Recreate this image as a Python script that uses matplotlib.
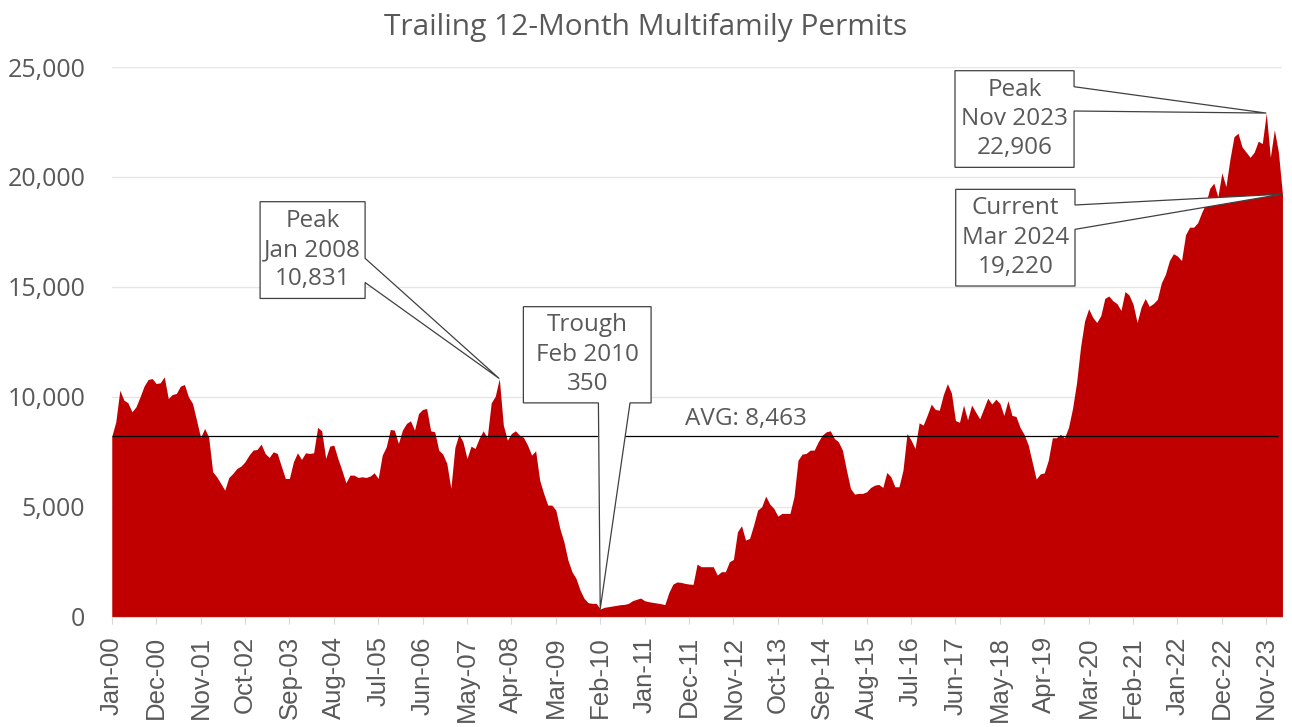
import pandas as pd
import matplotlib
matplotlib.use("Agg")
from matplotlib import pyplot as plt
from matplotlib.patches import Polygon
from matplotlib.ticker import FuncFormatter

# Monthly trailing 12-month multifamily permits, Jan 2000 - Mar 2024.
months = pd.date_range("2000-01-01", "2024-03-01", freq="MS")
permits = [
    8200, 8864, 10300, 9850, 9730, 9320, 9546, 10000, 10485, 10788,
    10833, 10606, 10637, 10909, 9924, 10106, 10152, 10485, 10561, 10000,
    9700, 8940, 8152, 8561, 8180, 6590, 6364, 6060, 5758, 6334,
    6516, 6743, 6849, 7046, 7349, 7576, 7607, 7849, 7425, 7243,
    7500, 7425, 6849, 6288, 6288, 7046, 7455, 7152, 7455, 7425,
    7455, 8607, 8455, 7198, 7758, 7804, 7198, 6667, 6091, 6440,
    6440, 6334, 6364, 6334, 6395, 6546, 6288, 7349, 7728, 8516,
    8486, 7880, 8486, 8789, 8910, 8486, 9243, 9425, 9470, 8455,
    8410, 7576, 7395, 6970, 5834, 7698, 8303, 7955, 7198, 7758,
    7652, 8107, 8455, 8152, 9728, 10030, 10831, 8713, 8031, 8334,
    8455, 8258, 8152, 7804, 7349, 7546, 6213, 5607, 5077, 5077,
    4850, 4016, 3410, 2577, 2047, 1744, 1213, 835, 638, 608,
    608, 350, 426, 456, 486, 517, 547, 562, 608, 729,
    790, 850, 729, 683, 653, 623, 593, 550, 1100, 1480,
    1580, 1562, 1516, 1486, 1471, 2395, 2274, 2274, 2274, 2274,
    1895, 2047, 2047, 2501, 2607, 3865, 4137, 3486, 3562, 4168,
    4850, 5001, 5486, 5122, 4925, 4577, 4698, 4698, 4698, 5456,
    7122, 7395, 7425, 7576, 7576, 7955, 8258, 8410, 8455, 8107,
    7955, 7576, 6667, 5834, 5577, 5607, 5607, 5683, 5880, 5985,
    6016, 5880, 6561, 6364, 5910, 5910, 6667, 8334, 8031, 7652,
    8819, 8713, 9167, 9667, 9425, 9394, 10100, 10600, 10172, 8920,
    8842, 9625, 8952, 9625, 9312, 9000, 9468, 9938, 9672, 9891,
    9703, 9155, 9828, 9155, 9108, 8608, 8295, 7825, 7043, 6260,
    6495, 6542, 7121, 8138, 8138, 8295, 8138, 8608, 9468, 10642,
    12285, 13459, 14007, 13616, 13381, 13694, 14476, 14586, 14367, 14242,
    13929, 14790, 14633, 14210, 13381, 14085, 14476, 14116, 14242, 14429,
    15181, 15572, 16198, 16511, 16401, 16198, 17372, 17716, 17716, 17919,
    18389, 18780, 19484, 19719, 19093, 20189, 19563, 20815, 21832, 21988,
    21362, 21128, 20893, 21128, 21628, 21519, 22906, 20893, 22145, 21128,
    19220,
]

# The average line sits a little below its label value in the original.
avg_label = "AVG: 8,463"
avg_level = 8200

# Callouts: (month index, text lines)
callouts = [
    (96, ["Peak", "Jan 2008", "10,831"]),
    (121, ["Trough", "Feb 2010", "350"]),
    (286, ["Peak", "Nov 2023", "22,906"]),
    (290, ["Current", "Mar 2024", "19,220"]),
]

tick_step = 11
y_max = 25000
fill_color = "#C00000"
text_color = "#595959"
font = ["Open Sans", "DejaVu Sans"]

x = list(range(len(permits)))

fig = plt.figure(figsize=(12.92, 7.27), dpi=100)
ax = fig.add_axes([0.0865, 0.1517, 0.9061, 0.7561])

ax.fill_between(x, permits, 0, color=fill_color, lw=0, zorder=2)
ax.set_xlim(0, len(permits) - 1)
ax.set_ylim(0, y_max)

# Average line
ax.hlines(avg_level, 0, 288.9, color="black", lw=0.9, zorder=3)
ax.text(142, avg_level + 250, avg_label, fontsize=17.5, family=font,
        color=text_color, ha="left", va="bottom", zorder=3)

# Axes styling
for s in ["top", "right", "left"]:
    ax.spines[s].set_visible(False)
ax.spines["bottom"].set_color("#D9D9D9")
ax.set_yticks(range(0, y_max + 1, 5000))
ax.yaxis.set_major_formatter(FuncFormatter(lambda v, p: f"{int(v):,}"))
ax.tick_params(axis="y", length=0, pad=19, labelsize=18, labelcolor=text_color)
for lab in ax.get_yticklabels():
    lab.set_family(font)
ax.grid(axis="y", color="#E6E6E6", lw=1, zorder=0)
ax.set_axisbelow(True)

tick_pos = x[::tick_step]
tick_labels = [months[i].strftime("%b-%y") for i in tick_pos]
ax.set_xticks(tick_pos)
ax.set_xticklabels(tick_labels, rotation=90, fontsize=18.5,
                   family="Liberation Sans", color=text_color)
ax.tick_params(axis="x", length=5, color="#D9D9D9", pad=9)

fig.text(0.5, 1 - 27 / 727, "Trailing 12-Month Multifamily Permits",
         ha="center", va="center", fontsize=21.5, family=font, color=text_color)

# Callout boxes, layout in axes fractions
boxes = {
    96: dict(box=(0.1267, 0.2164, 0.579, 0.755), side="right", a=(0.652, 0.608)),
    121: dict(box=(0.3516, 0.4607, 0.389, 0.564), side="bottom", a=(0.4157, 0.4427)),
    286: dict(box=(0.7203, 0.8220, 0.8175, 0.9933), side="right", a=(0.9642, 0.920)),
    290: dict(box=(0.7209, 0.8228, 0.6016, 0.7775), side="right", a=(0.749, 0.7047)),
}

for idx, lines in callouts:
    b = boxes[idx]
    x0, x1, y0, y1 = b["box"]
    tip = (idx / (len(permits) - 1), permits[idx] / y_max)
    a1, a2 = b["a"]
    if b["side"] == "right":
        pts = [(x0, y1), (x1, y1), (x1, a1), tip, (x1, a2), (x1, y0), (x0, y0)]
    else:
        pts = [(x0, y1), (x1, y1), (x1, y0), (a2, y0), tip, (a1, y0), (x0, y0)]
    poly = Polygon(pts, closed=True, transform=ax.transAxes, facecolor="white",
                   edgecolor="#404040", lw=0.9, clip_on=False, zorder=5)
    ax.add_patch(poly)
    ax.text((x0 + x1) / 2, (y0 + y1) / 2, "\n".join(lines), transform=ax.transAxes,
            ha="center", va="center", fontsize=17.5, family=font,
            color=text_color, linespacing=1.3, zorder=6)

plt.savefig("out.png", dpi=100)
